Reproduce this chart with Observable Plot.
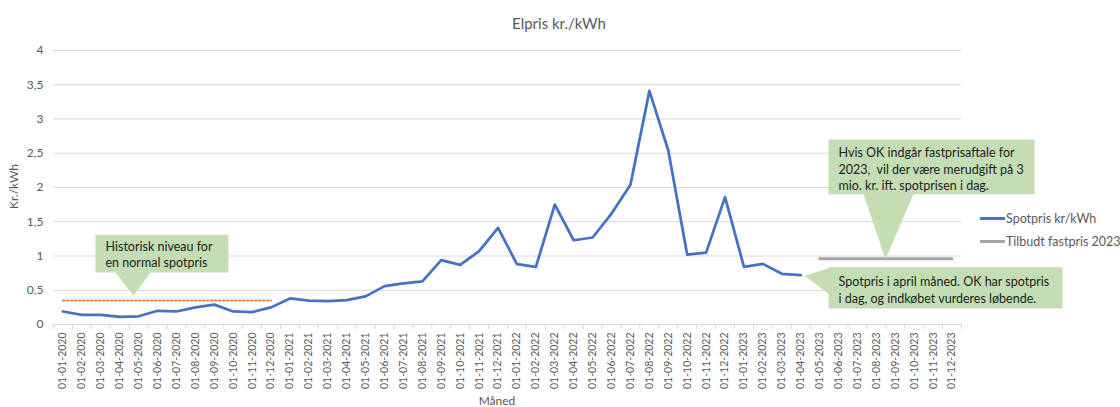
<!DOCTYPE html>
<html>
<head>
<meta charset="utf-8">
<script src="https://cdn.jsdelivr.net/npm/d3@7"></script>
<script src="https://cdn.jsdelivr.net/npm/@observablehq/plot@0.6"></script>
<style>
  html, body { margin: 0; padding: 0; background: #fff; }
  #wrap { position: relative; width: 1120px; height: 407px; font-family: Lato, "Open Sans", sans-serif; color: #595959; overflow: hidden; }
  #wrap svg { position: absolute; left: 0; top: 0; }
  .title { position: absolute; left: 459px; width: 200px; top: 14px; text-align: center; font-size: 15px; color: #595959; }
  .xlab { position: absolute; left: 447px; width: 100px; top: 393px; text-align: center; font-size: 12px; color: #595959; }
  .ylab { position: absolute; left: -37px; width: 100px; top: 179px; text-align: center; font-size: 12px; color: #595959; transform: rotate(-90deg); }
  .legend { position: absolute; left: 980px; top: 207px; font-size: 12.5px; color: #595959; white-space: nowrap; }
  .legend .row { display: flex; align-items: center; height: 23px; white-space: nowrap; }
  .legend .sw { width: 25px; height: 3px; margin-right: 1px; flex: none; }
</style>
</head>
<body>
<div id="wrap"></div>
<script>
// ---- data ----
const months = [
  "01-01-2020","01-02-2020","01-03-2020","01-04-2020","01-05-2020","01-06-2020",
  "01-07-2020","01-08-2020","01-09-2020","01-10-2020","01-11-2020","01-12-2020",
  "01-01-2021","01-02-2021","01-03-2021","01-04-2021","01-05-2021","01-06-2021",
  "01-07-2021","01-08-2021","01-09-2021","01-10-2021","01-11-2021","01-12-2021",
  "01-01-2022","01-02-2022","01-03-2022","01-04-2022","01-05-2022","01-06-2022",
  "01-07-2022","01-08-2022","01-09-2022","01-10-2022","01-11-2022","01-12-2022",
  "01-01-2023","01-02-2023","01-03-2023","01-04-2023","01-05-2023","01-06-2023",
  "01-07-2023","01-08-2023","01-09-2023","01-10-2023","01-11-2023","01-12-2023"
];
// Spotpris kr/kWh, 01-01-2020 .. 01-04-2023
const spotpris = [
  0.19, 0.14, 0.14, 0.11, 0.12, 0.20, 0.19, 0.25, 0.29, 0.19, 0.18, 0.25,
  0.38, 0.35, 0.34, 0.355, 0.41, 0.56, 0.60, 0.63, 0.94, 0.87, 1.07, 1.41,
  0.88, 0.84, 1.75, 1.23, 1.27, 1.62, 2.04, 3.41, 2.54, 1.02, 1.05, 1.86,
  0.84, 0.885, 0.74, 0.72
];
const spotStart = "01-01-2020";
// Tilbudt fastpris 2023, 01-05-2023 .. 01-12-2023
const fastpris = [0.96, 0.96, 0.96, 0.96, 0.96, 0.96, 0.96, 0.96];
const fastStart = "01-05-2023";
// Historisk niveau for en normal spotpris (dotted), 2020
const historisk = [0.35, 0.35, 0.35, 0.35, 0.35, 0.35, 0.35, 0.35, 0.35, 0.35, 0.35, 0.35];
const histStart = "01-01-2020";
const yTicks = [0, 0.5, 1, 1.5, 2, 2.5, 3, 3.5, 4];

const seriesNames = ["Spotpris kr/kWh", "Tilbudt fastpris 2023"];
const seriesColors = ["#4472C4", "#A5A5A5"];
const histColor = "#ED7D31";
const calloutFill = "#C5DDB3";

// callout texts
const callouts = [
  {text: "Historisk niveau for\nen normal spotpris"},
  {text: "Hvis OK indgår fastprisaftale for\n2023,  vil der være merudgift på 3\nmio. kr. ift. spotprisen i dag."},
  {text: "Spotpris i april måned. OK har spotpris\ni dag, og indkøbet vurderes løbende."}
];

// ---- build tables ----
const idx = m => months.indexOf(m);
const toRows = (arr, start) => arr.map((v, k) => ({i: idx(start) + k, v}));
const spotRows = toRows(spotpris, spotStart);
const fastRows = toRows(fastpris, fastStart);
const histRows = toRows(historisk, histStart);

// Callout geometry in data units (x = month index, y = kr./kWh)
const shapes = [
  [[1.72,1.31],[8.75,1.31],[8.75,0.76],[4.63,0.76],[3.73,0.42],[2.78,0.76],[1.72,0.76]],
  [[40.47,2.70],[51.36,2.70],[51.36,1.90],[44.96,1.90],[43.48,0.95],[42.32,1.90],[40.47,1.90]],
  [[40.47,0.835],[52.84,0.835],[52.84,0.235],[40.47,0.235],[40.47,0.45],[39.2,0.71],[40.47,0.82]]
];
const shapeRows = shapes.flatMap((pts, s) => pts.map(([x, y]) => ({s, x, y})));
const textRows = [
  {x: 2.25, y: 1.03, t: callouts[0].text},
  {x: 41.0, y: 2.28, t: callouts[1].text},
  {x: 41.0, y: 0.515, t: callouts[2].text}
];

const boundaries = d3.range(months.length + 1).map(k => k - 0.5);

const chart = Plot.plot({
  width: 1120,
  height: 407,
  marginLeft: 53,
  marginRight: 159,
  marginTop: 50,
  marginBottom: 83,
  style: {fontFamily: "Lato, 'Open Sans', sans-serif", color: "#595959", background: "transparent", overflow: "visible"},
  x: {
    domain: [-0.5, months.length - 0.5],
    ticks: d3.range(months.length),
    tickFormat: k => months[k],
    tickRotate: -90,
    tickSize: 0,
    tickPadding: 8,
    label: null
  },
  y: {
    domain: [0, 4],
    ticks: yTicks,
    tickFormat: d => String(d).replace(".", ","),
    tickSize: 0,
    tickPadding: 10,
    label: null
  },
  marks: [
    Plot.ruleY(yTicks, {stroke: "#D9D9D9", strokeWidth: 1}),
    Plot.ruleX(boundaries, {y1: 0, y2: -0.075, stroke: "#D9D9D9"}),
    Plot.line(histRows, {x: "i", y: "v", stroke: histColor, strokeWidth: 2, strokeDasharray: "1.5 2.5"}),
    Plot.line(fastRows, {x: "i", y: "v", stroke: seriesColors[1], strokeWidth: 3}),
    Plot.line(spotRows, {x: "i", y: "v", stroke: seriesColors[0], strokeWidth: 2.75, strokeLinejoin: "round", strokeLinecap: "round"}),
    Plot.line(shapeRows, {x: "x", y: "y", z: "s", fill: calloutFill, stroke: "none"}),
    Plot.text(textRows, {x: "x", y: "y", text: "t", textAnchor: "start", lineAnchor: "middle", lineHeight: 1.3, fontSize: 12.5, fill: "#222"})
  ]
});

const wrap = document.getElementById("wrap");
wrap.appendChild(chart);

const title = document.createElement("div");
title.className = "title"; title.textContent = "Elpris kr./kWh";
wrap.appendChild(title);
const xl = document.createElement("div");
xl.className = "xlab"; xl.textContent = "Måned";
wrap.appendChild(xl);
const yl = document.createElement("div");
yl.className = "ylab"; yl.textContent = "Kr./kWh";
wrap.appendChild(yl);

const legend = document.createElement("div");
legend.className = "legend";
seriesNames.forEach((n, k) => {
  const row = document.createElement("div"); row.className = "row";
  const sw = document.createElement("div"); sw.className = "sw"; sw.style.background = seriesColors[k];
  const tx = document.createElement("span"); tx.textContent = n;
  row.appendChild(sw); row.appendChild(tx);
  legend.appendChild(row);
});
wrap.appendChild(legend);

chart.querySelectorAll("[aria-label='x-axis tick label']").forEach(e => { e.setAttribute("font-size", "10.5"); });
chart.querySelectorAll("[aria-label='y-axis tick label']").forEach(e => { e.setAttribute("font-size", "12"); });
</script>
</body>
</html>
